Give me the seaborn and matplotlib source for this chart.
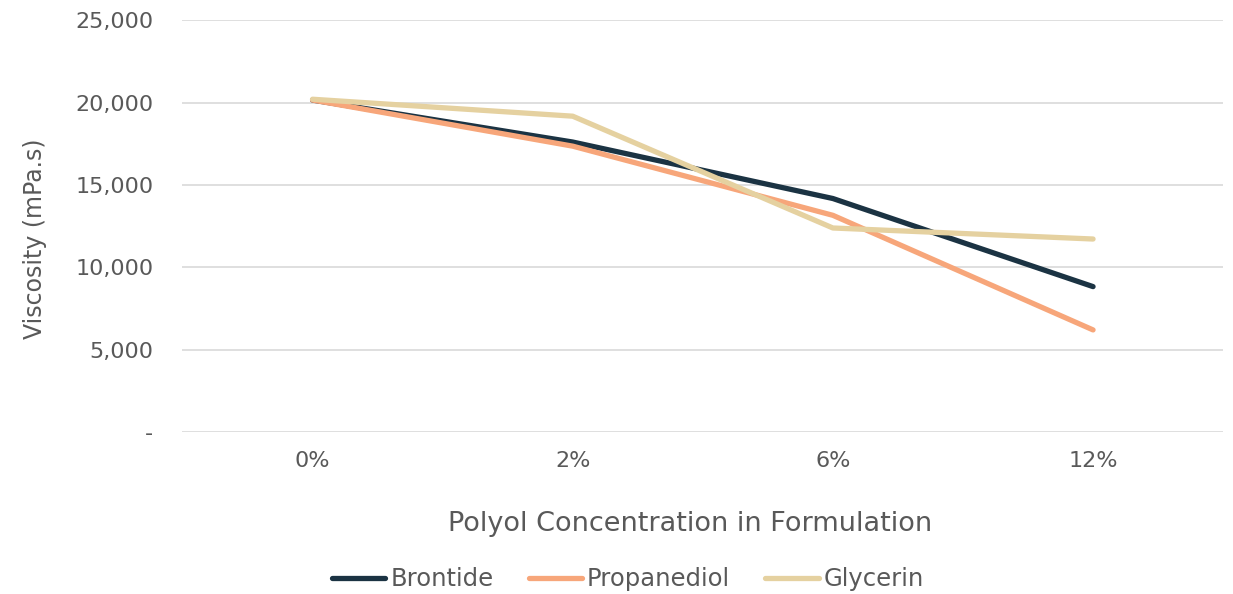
import numpy as np
import pandas as pd
import matplotlib
matplotlib.use('Agg')
import matplotlib.pyplot as plt
import seaborn as sns
from matplotlib.ticker import FuncFormatter

concentrations = ['0%', '2%', '6%', '12%']
brontide = [20150, 17600, 14170, 8820]
propanediol = [20150, 17350, 13150, 6190]
glycerin = [20200, 19170, 12380, 11710]

series_names = ['Brontide', 'Propanediol', 'Glycerin']
colours = ['#1b3343', '#f7a67a', '#e5d1a0']

df = pd.DataFrame({
    'conc': concentrations * 3,
    'viscosity': brontide + propanediol + glycerin,
    'polyol': np.repeat(series_names, len(concentrations)),
})

sns.set_style('white')
plt.rcParams['font.family'] = ['DejaVu Sans']
text_col = '#595959'

fig, ax = plt.subplots(figsize=(12.33, 5.94), dpi=100)
fig.subplots_adjust(left=0.148, right=0.992, top=0.966, bottom=0.273)

sns.lineplot(data=df, x='conc', y='viscosity', hue='polyol', palette=colours,
             sort=False, linewidth=3.8, ax=ax, solid_capstyle='round')

ax.set_xlim(-0.5, 3.5)
ax.set_ylim(0, 25000)
ax.set_yticks(range(0, 25001, 5000))
ax.yaxis.set_major_formatter(FuncFormatter(lambda v, p: '-' if v == 0 else f'{int(v):,}'))
ax.grid(axis='y', color='#d9d9d9', linewidth=1.2)
ax.set_axisbelow(True)
for s in ['top', 'right', 'left', 'bottom']:
    ax.spines[s].set_visible(False)
ax.tick_params(axis='both', length=0, labelsize=16, labelcolor=text_col)
ax.tick_params(axis='x', pad=14)
ax.tick_params(axis='y', pad=21)

ax.set_xlabel('Polyol Concentration in Formulation', fontsize=19.5, color=text_col)
ax.xaxis.set_label_coords(0.488, -0.192)
ax.set_ylabel('Viscosity (mPa.s)', fontsize=17, color=text_col)
ax.yaxis.set_label_coords(-0.130, 0.468)

ax.legend(loc='upper center', bbox_to_anchor=(0.428, -0.276), ncol=3, frameon=False,
          fontsize=17.5, labelcolor=text_col, handlelength=2.2, handletextpad=0.2,
          columnspacing=1.45)

plt.savefig('out.png', dpi=100)
